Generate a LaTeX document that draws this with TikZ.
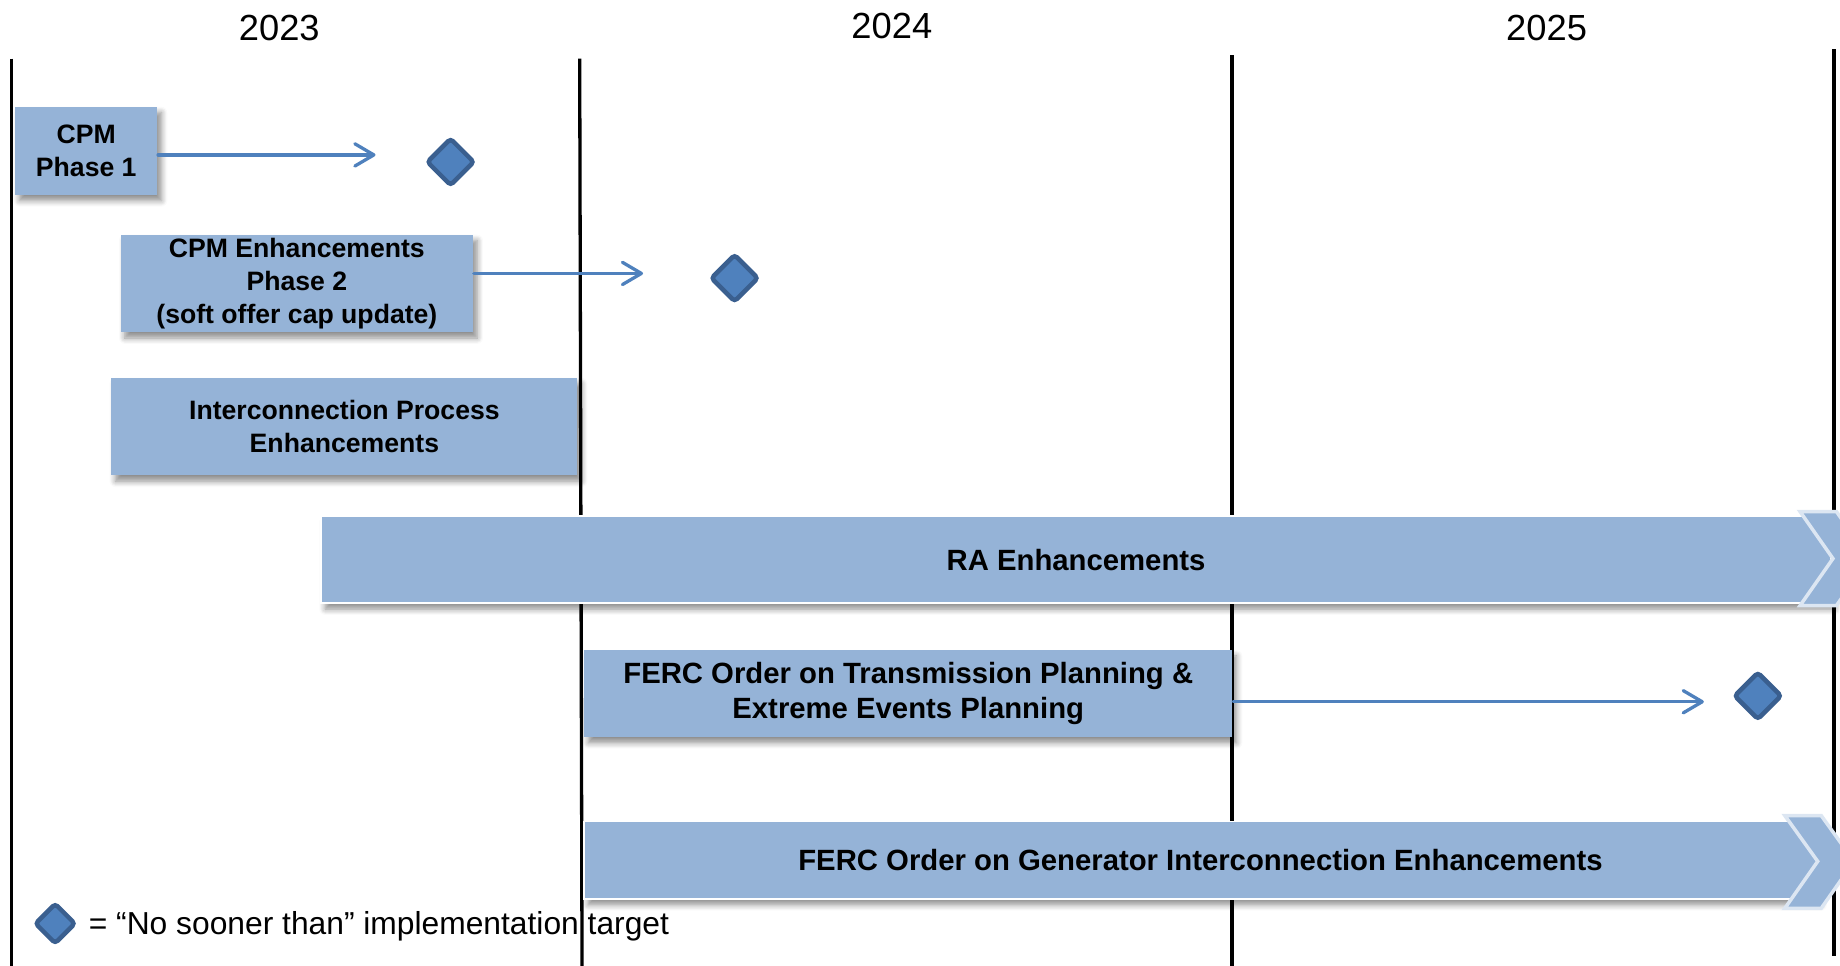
\documentclass[tikz,border=0pt]{standalone}
\usepackage{fontspec}
\setmainfont{Liberation Sans}
\usetikzlibrary{arrows.meta,shapes.geometric,shadows.blur}
\definecolor{boxblue}{HTML}{95B3D7}
\definecolor{arrblue}{HTML}{4F81BD}
\definecolor{diaedge}{HTML}{3A5F8F}
\definecolor{chevedge}{HTML}{DCE6F2}
\tikzset{
  yearlbl/.style={font=\fontsize{8.8pt}{10pt}\selectfont, inner sep=0pt},
  vline/.style={line width=0.8pt, black},
  boxshadow/.style={blur shadow={shadow xshift=0.035cm, shadow yshift=-0.05cm, shadow blur radius=0.05cm, shadow blur steps=6, shadow opacity=45}},
  taskbox/.style={rectangle, fill=boxblue, inner sep=0pt, align=center, boxshadow,
    font=\fontsize{6.45pt}{7.97pt}\selectfont\bfseries},
  barbox/.style={rectangle, fill=boxblue, draw=white, line width=0.4pt, inner sep=0pt, align=center, boxshadow,
    font=\fontsize{7.1pt}{8.5pt}\selectfont\bfseries},
  chev/.style={fill=boxblue, draw=chevedge, line width=0.85pt, line join=miter},
  conn/.style={draw=arrblue, line width=0.8pt, line cap=round, -{Straight Barb[length=4.6pt, width=5.4pt, line width=0.8pt, round]}},
  target/.style={diamond, aspect=1, inner sep=0pt, fill=arrblue, draw=diaedge, line width=1.1pt, rounded corners=0.8pt},
  legendlbl/.style={font=\fontsize{7.7pt}{9pt}\selectfont, inner sep=0pt, anchor=west}
}
\begin{document}
\begin{tikzpicture}[x=0.01cm, y=-0.01cm]
\useasboundingbox (0,0) rectangle (1568,823);
\begin{scope}
\clip (0,0) rectangle (1568,823);
% year labels
\node[yearlbl] (y23) at (238,24) {2023};
\node[yearlbl] (y24) at (760,22) {2024};
\node[yearlbl] (y25) at (1318,24) {2025};
% vertical year separators
\draw[vline] (10,50) -- (10,823);
\draw[vline] (494,50) -- (496,823);
\draw[vline] (1050,47) -- (1050,823);
\draw[vline] (1563,42) -- (1563,815);

% tasks
\node[taskbox, minimum width=1.21cm, minimum height=0.75cm] (b1) at (73.5,128.5) {CPM\\Phase 1};
\node[taskbox, minimum width=3.00cm, minimum height=0.83cm] (b2) at (253,241.5) {CPM Enhancements\\Phase 2\\(soft offer cap update)};
\node[taskbox, minimum width=3.97cm, minimum height=0.83cm] (b3) at (293.5,363.5) {Interconnection Process\\Enhancements};

% RA bar
\node[barbox, minimum width=12.86cm, minimum height=0.74cm] (ra) at (917,477) {RA Enhancements};
\draw[chev] (1534,436) -- (1565,436) -- (1593,476) -- (1565,516) -- (1534,516) -- (1562,476) -- cycle;

% FERC transmission
\node[taskbox, font=\fontsize{7.1pt}{8.5pt}\selectfont\bfseries, minimum width=5.52cm, minimum height=0.74cm] (ft) at (774,591) {FERC Order on Transmission Planning \&\\Extreme Events Planning};

% FERC generator bar
\node[barbox, minimum width=10.50cm, minimum height=0.66cm] (fg) at (1023,733) {FERC Order on Generator Interconnection Enhancements};
\draw[chev] (1521,695) -- (1552,695) -- (1580,734) -- (1552,774) -- (1521,774) -- (1549,734) -- cycle;

% arrows and targets
\coordinate (a1) at (320,132);
\coordinate (a2) at (548,233);
\coordinate (a3) at (1452,598);
\draw[conn] (b1.east |- a1) -- (a1);
\draw[conn] (b2.east |- a2) -- (a2);
\draw[conn] (ft.east |- a3) -- (a3);
\node[target, minimum size=0.41cm] (d1) at (384,138) {};
\node[target, minimum size=0.41cm] (d2) at (626,237) {};
\node[target, minimum size=0.41cm] (d3) at (1498,593) {};

% legend
\node[target, minimum size=0.35cm] (dl) at (47,787) {};
\node[legendlbl] (lg) at (75,789) {= “No sooner than” implementation target};
\end{scope}
\end{tikzpicture}
\end{document}
